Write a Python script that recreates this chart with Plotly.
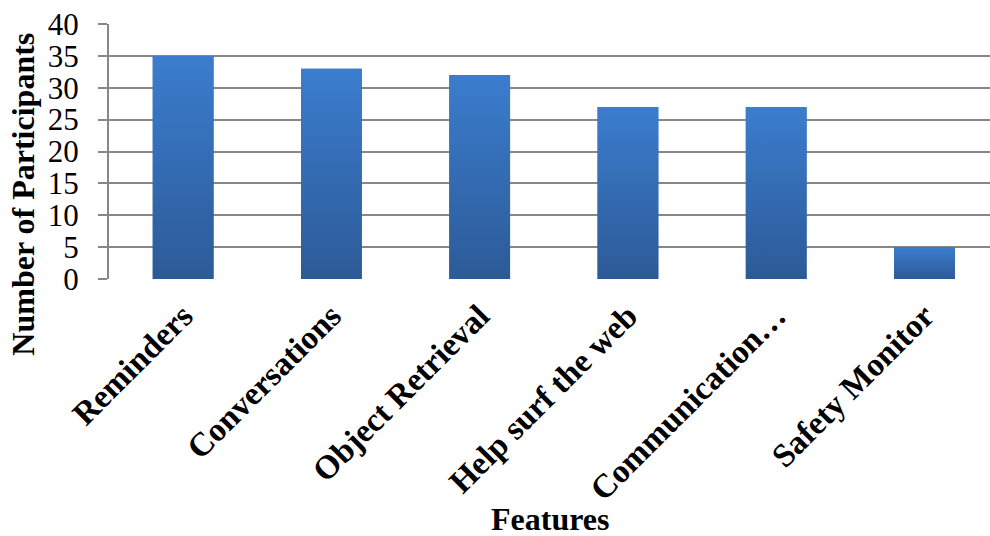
import plotly.graph_objects as go

categories = ["Reminders", "Conversations", "Object Retrieval", "Help surf the web",
              "Communication…", "Safety Monitor"]
values = [35, 33, 32, 27, 27, 5]
y_ticks = [0, 5, 10, 15, 20, 25, 30, 35, 40]

FONT = "Liberation Serif, Times New Roman, serif"
GRID = "#878787"
BAR_W = 0.41
TOP_C = "#3B7DCE"
BOT_C = "#2C5A97"

x_idx = list(range(len(categories)))

fig = go.Figure()
fig.add_trace(go.Bar(
    x=x_idx, y=values,
    marker=dict(color="#336BB2", line=dict(width=0)),
    width=BAR_W,
    hoverinfo="y",
))

# vertical gradient overlay for each bar, built from the same data
for i, v in zip(x_idx, values):
    xl, xr = i - BAR_W / 2, i + BAR_W / 2
    fig.add_trace(go.Scatter(
        x=[xl, xr, xr, xl, xl], y=[0, 0, v, v, 0],
        mode="lines", line=dict(width=0),
        fill="toself",
        fillgradient=dict(type="vertical", start=0, stop=v,
                          colorscale=[[0, BOT_C], [1, TOP_C]]),
        hoverinfo="skip",
    ))

fig.update_layout(
    width=990, height=536,
    margin=dict(l=109, r=0, t=24, b=257),
    paper_bgcolor="white", plot_bgcolor="white",
    font=dict(family=FONT, color="black"),
    showlegend=False,
    xaxis=dict(
        range=[-0.5, 5.442],
        tickvals=x_idx, ticktext=categories,
        tickangle=-45,
        tickfont=dict(family=FONT, size=33, color="black", weight="bold"),
        showgrid=False, zeroline=False, showline=False,
        ticks="", ticklen=0,
        ticklabelstandoff=10,
        fixedrange=True,
    ),
    yaxis=dict(
        range=[0, 40],
        tickvals=y_ticks,
        tickfont=dict(family=FONT, size=31, color="black"),
        showgrid=True, gridcolor=GRID, gridwidth=2,
        zeroline=False,
        showline=True, linecolor=GRID, linewidth=2,
        ticks="outside", ticklen=9, tickcolor=GRID, tickwidth=2,
        ticklabelstandoff=13,
        fixedrange=True,
    ),
    annotations=[
        dict(text="<b>Number of Participants</b>", xref="paper", yref="paper",
             x=-0.097, y=0.333, xanchor="center", yanchor="middle",
             textangle=-90, showarrow=False,
             font=dict(family=FONT, size=32, color="black")),
        dict(text="<b>Features</b>", xref="paper", yref="paper",
             x=0.5, y=(279 - 519) / 255, xanchor="center", yanchor="middle",
             showarrow=False,
             font=dict(family=FONT, size=32, color="black")),
    ],
)

fig.write_html("out.html")
